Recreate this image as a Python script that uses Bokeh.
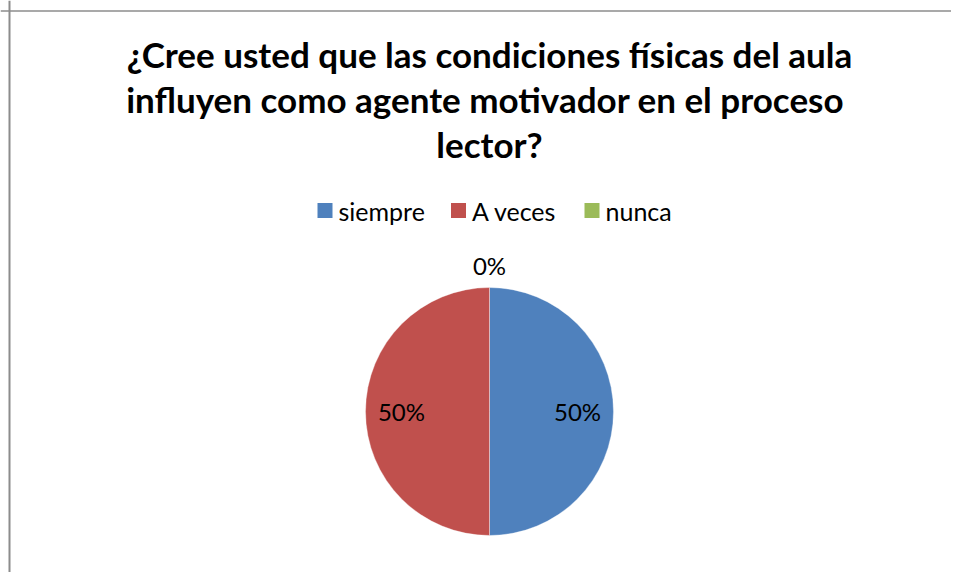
import math
from bokeh.plotting import figure
from bokeh.models import Range1d, Span, ColumnDataSource
from bokeh.core.properties import value
from bokeh.embed import file_html
from bokeh.resources import INLINE

# ---- data ----
categories = ["siempre", "A veces", "nunca"]
values = [50, 50, 0]
colors = ["#4F81BD", "#C0504D", "#9BBB59"]
title_lines = [
    "¿Cree usted que las condiciones físicas del aula",
    "influyen como agente motivador  en el proceso",
    "lector?",
]

# ---- layout constants (pixels in screenshot; converted to data) ----
W, H = 951, 572
def X(px):
    return px
def Y(py):
    return H - py

FONT = "Lato"
cx, cy, R = X(489), Y(411), 124

p = figure(width=W, height=H, output_backend="svg", toolbar_location=None,
           x_range=Range1d(0, W), y_range=Range1d(0, H),
           min_border=0, min_border_left=0, min_border_right=0,
           min_border_top=0, min_border_bottom=0)
p.axis.visible = False
p.grid.visible = False
p.outline_line_color = None
p.background_fill_color = "white"
p.border_fill_color = "white"

# border of chart area (top and left visible)
p.add_layout(Span(location=X(9), dimension="height", line_color="#8c8c8c", line_width=2))
p.add_layout(Span(location=Y(10.5), dimension="width", line_color="#8c8c8c", line_width=1.5))

# title
title_base = [53, 98, 143]
p.text(x=[X(489)] * len(title_lines), y=[Y(b) for b in title_base], text=title_lines,
       text_align="center", text_baseline="alphabetic",
       text_font=value(FONT), text_font_style="bold", text_font_size="35px",
       text_color="black")

# pie
total = sum(values)
starts, ends, lx, ly, labels = [], [], [], [], []
cum = 0.0
for v in values:
    a0 = math.pi / 2 - 2 * math.pi * (cum + v) / total
    a1 = math.pi / 2 - 2 * math.pi * cum / total
    starts.append(a0)
    ends.append(a1)
    mid = (a0 + a1) / 2
    rr = 0.71 * R if v > 0 else 1.18 * R
    lx.append(cx + rr * math.cos(mid))
    ly.append(cy + rr * math.sin(mid))
    labels.append(f"{round(100 * v / total)}%")
    cum += v

nz = [i for i, v in enumerate(values) if v > 0]
src = ColumnDataSource(dict(
    s=[starts[i] for i in nz], e=[ends[i] for i in nz], c=[colors[i] for i in nz]))
p.wedge(x=cx, y=cy, radius=R, start_angle="s", end_angle="e", direction="anticlock",
        fill_color="c", line_color="white", line_width=0.6, line_alpha=0.6, source=src)

p.text(x=lx, y=ly, text=labels, text_align="center", text_baseline="middle",
       text_font=value(FONT), text_font_size="24px", text_color="black")

# legend
leg_x0, leg_step, leg_y, sq = 324.5, 133.5, 210, 15
sx = [X(leg_x0 + leg_step * i) for i in range(len(categories))]
p.scatter(x=sx, y=[Y(leg_y)] * len(categories), marker="square", size=sq,
          fill_color=colors, line_color=None)
p.text(x=[s + sq / 2 + 6 for s in sx], y=[Y(leg_y)] * len(categories), text=categories,
       text_align="left", text_baseline="middle",
       text_font=value(FONT), text_font_size="25px", text_color="black")

open("out.html", "w").write(file_html(p, INLINE))
